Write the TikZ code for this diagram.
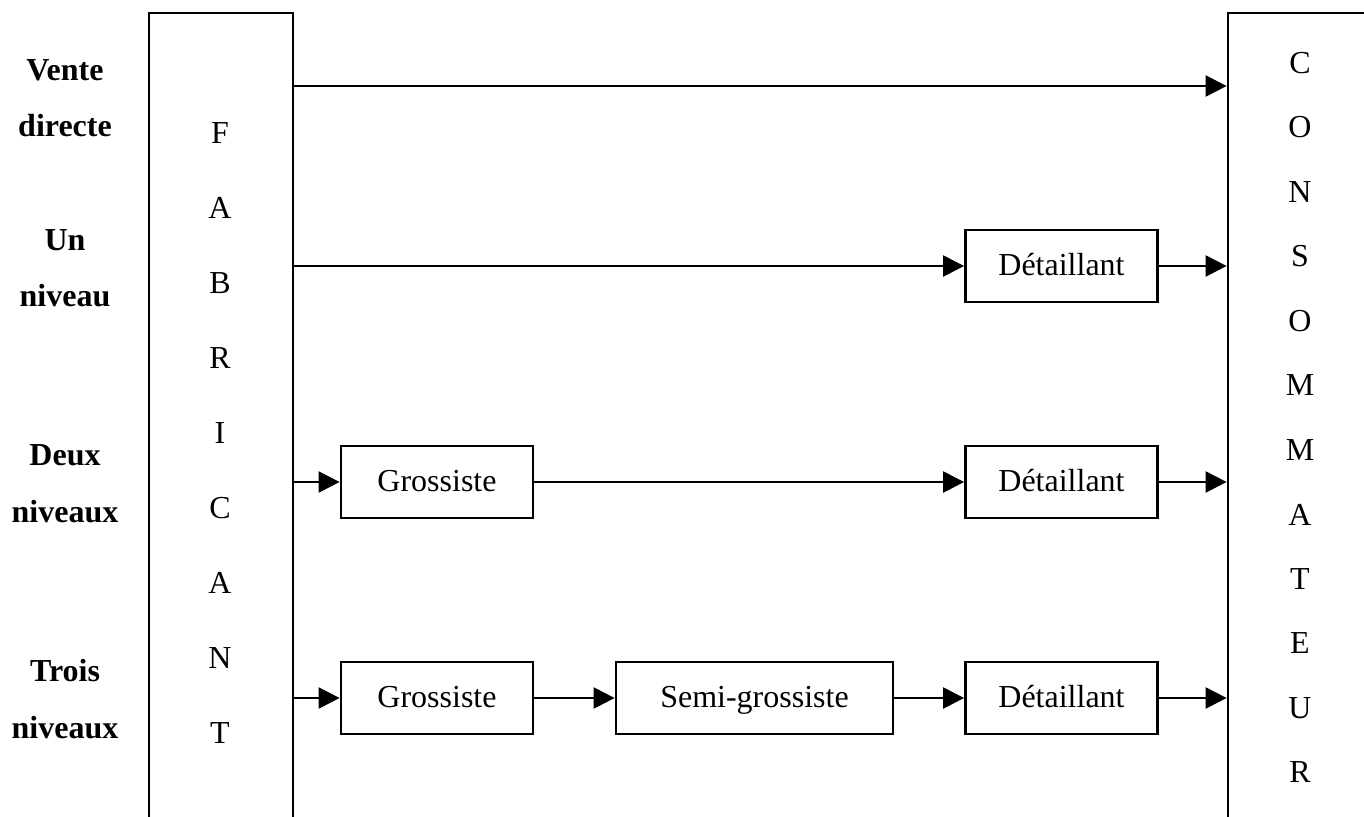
\documentclass[tikz,border=0pt]{standalone}
\usepackage{fontspec}
\setmainfont{Liberation Serif}
\usetikzlibrary{arrows.meta}
\begin{document}
\begin{tikzpicture}[x=1pt,y=-1pt,
  box/.style={draw,line width=2.8pt,minimum width=192pt,minimum height=72pt,inner sep=0pt,text height=24pt,text depth=5.8pt,font=\fontsize{32}{38}\selectfont},
  tall/.style={draw,line width=2.8pt,inner sep=0pt,minimum height=850pt},
  arr/.style={line width=2.3pt,-{Triangle[length=21pt,width=21pt]}},
  lbl/.style={font=\bfseries\fontsize{32}{38}\selectfont,anchor=base},
  letter/.style={font=\fontsize{32}{38}\selectfont,inner sep=0pt}]
\clip (0,0) rectangle (1364,816);
\fill[white] (0,0) rectangle (1364,816);
% big side boxes
\node[tall,minimum width=144pt] (fab) at (221,438) {};
\node[tall,minimum width=200pt] (cons) at (1328,438) {};
\foreach \c [count=\i] in {F,A,B,R,I,C,A,N,T}
  \node[letter] (f\i) at (220,{133+75*(\i-1)}) {\c};
\foreach \c [count=\i] in {C,O,N,S,O,M,M,A,T,E,U,R}
  \node[letter] (c\i) at (1300,{63+64.5*(\i-1)}) {\c};
% left labels
\node[lbl] (l1a) at (65,81) {Vente};
\node[lbl] (l1b) at (65,136) {directe};
\node[lbl] (l2a) at (65,250) {Un};
\node[lbl] (l2b) at (65,306) {niveau};
\node[lbl] (l3a) at (65,465) {Deux};
\node[lbl] (l3b) at (65,522) {niveaux};
\node[lbl] (l4a) at (65,681) {Trois};
\node[lbl] (l4b) at (65,738) {niveaux};
% intermediary boxes
\node[box] (d2) at (1061.5,266) {Détaillant};
\node[box] (g3) at (437,482) {Grossiste};
\node[box] (d3) at (1061.5,482) {Détaillant};
\node[box] (g4) at (437,698) {Grossiste};
\node[box,minimum width=277pt] (s4) at (754.5,698) {Semi-grossiste};
\node[box] (d4) at (1061.5,698) {Détaillant};
\coordinate (r1) at (700,86);
% connectors
\draw[arr] (fab.east |- r1) -- (cons.west |- r1);
\draw[arr] (fab.east |- d2) -- (d2);
\draw[arr] (d2) -- (cons.west |- d2);
\draw[arr] (fab.east |- g3) -- (g3);
\draw[arr] (g3) -- (d3);
\draw[arr] (d3) -- (cons.west |- d3);
\draw[arr] (fab.east |- g4) -- (g4);
\draw[arr] (g4) -- (s4);
\draw[arr] (s4) -- (d4);
\draw[arr] (d4) -- (cons.west |- d4);
\end{tikzpicture}
\end{document}
